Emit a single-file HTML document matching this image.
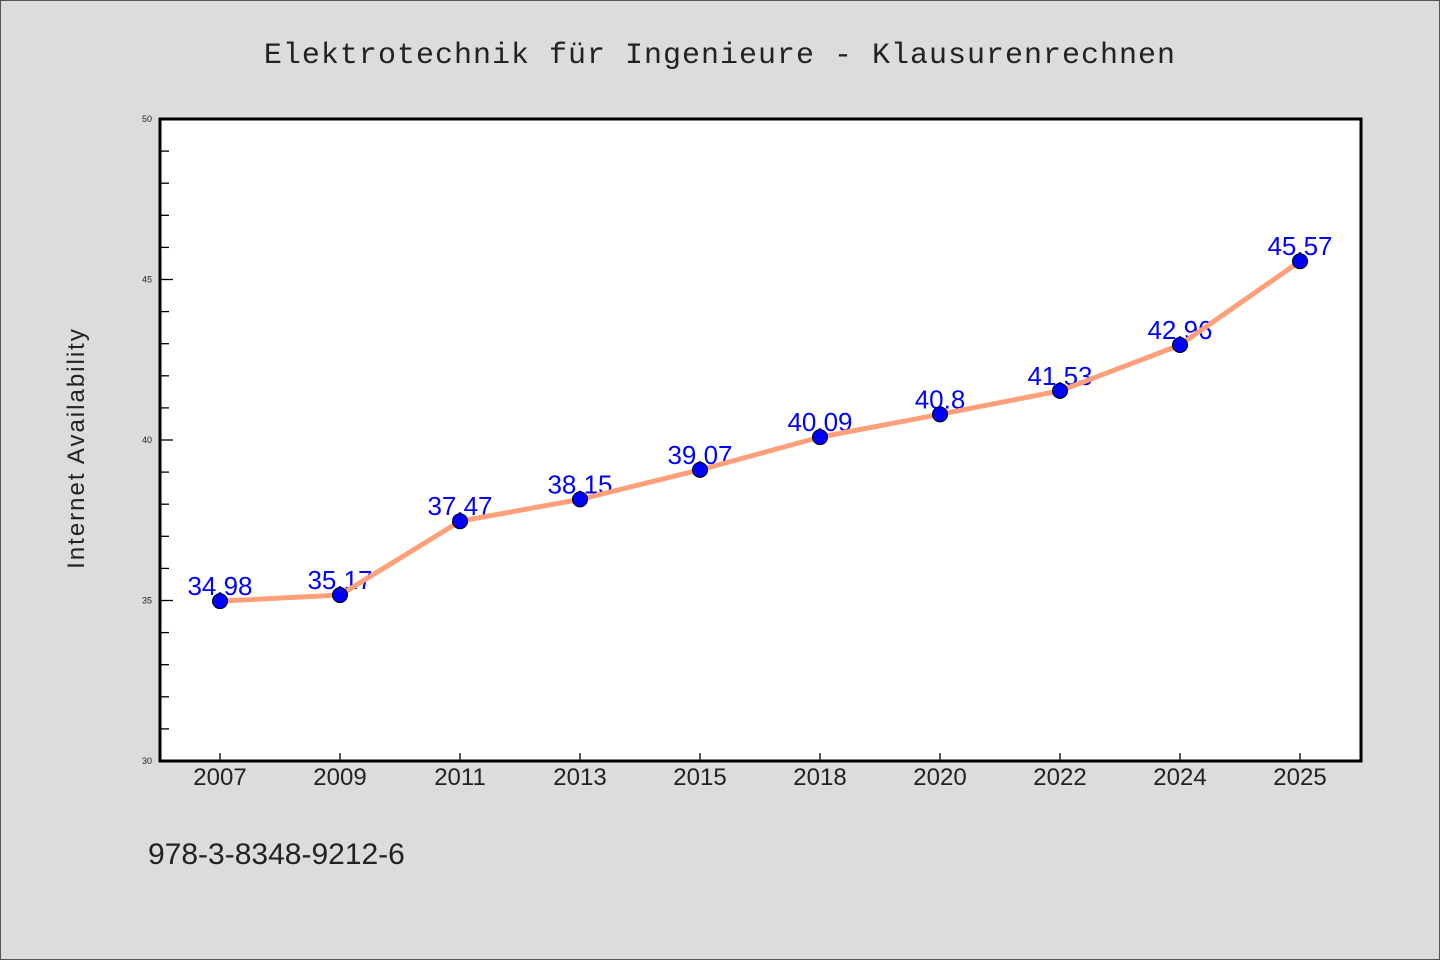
<!DOCTYPE html>
<html><head><meta charset="utf-8"><style>
html,body{margin:0;padding:0;background:#dcdcdc;}
svg{display:block;}
</style></head><body>
<svg width="1440" height="960" xmlns="http://www.w3.org/2000/svg">
<rect x="0.5" y="0.5" width="1439" height="959" fill="#dcdcdc" stroke="#555"/>
<text x="720" y="63" text-anchor="middle" font-family="'WenQuanYi Zen Hei','Liberation Mono',monospace" font-size="30" fill="#222" letter-spacing="1">Elektrotechnik für Ingenieure - Klausurenrechnen</text>
<rect x="160" y="119" width="1201" height="642" fill="#fff"/>
<g id="axes"></g>
<g id="labels"></g>
<g id="series"></g>
<rect x="160" y="119" width="1201" height="642" fill="none" stroke="#000" stroke-width="3"/>
<text transform="translate(84,448) rotate(-90)" text-anchor="middle" font-family="'WenQuanYi Zen Hei','Liberation Sans',sans-serif" font-size="24" fill="#222" letter-spacing="2">Internet Availability</text>
<text x="148" y="864" font-family="'WenQuanYi Zen Hei','Liberation Sans',sans-serif" font-size="30" fill="#222">978-3-8348-9212-6</text>
</svg>
<script>
const categories=["2007","2009","2011","2013","2015","2018","2020","2022","2024","2025"];
const values=[34.98,35.17,37.47,38.15,39.07,40.09,40.8,41.53,42.96,45.57];
const valueLabels=["34.98","35.17","37.47","38.15","39.07","40.09","40.8","41.53","42.96","45.57"];
const yTicks=[30,35,40,45,50];
const yMin=30,yMax=50;
const NS="http://www.w3.org/2000/svg";
const L=160,R=1361,T=119,B=761;
function xs(i){return 220+i*(1300-220)/(categories.length-1);}
function ys(v){return B-(v-yMin)/(yMax-yMin)*(B-T);}
function mk(t,a,p){const e=document.createElementNS(NS,t);for(const k in a)e.setAttribute(k,a[k]);p.appendChild(e);return e;}
const ax=document.getElementById('axes'),lb=document.getElementById('labels'),sr=document.getElementById('series');
for(let v=yMin;v<=yMax;v++){
  const major=yTicks.includes(v);
  const ln=mk('line',{x1:L,x2:L+(major?13:9),y1:ys(v),y2:ys(v),stroke:'#000','stroke-width':1.3},ax);
  
  
}
yTicks.forEach(v=>{
  const t=mk('text',{x:152,y:ys(v)+3,'text-anchor':'end','font-family':'Liberation Sans,sans-serif','font-size':9,fill:'#222'},ax);
  t.textContent=v;
  
  
});
categories.forEach((c,i)=>{
  const ln=mk('line',{x1:xs(i),x2:xs(i),y1:B-8,y2:B,stroke:'#000','stroke-width':1.3},ax);
  
  
  const t=mk('text',{x:xs(i),y:785,'text-anchor':'middle','font-family':"'WenQuanYi Zen Hei',Liberation Sans,sans-serif",'font-size':24,fill:'#222'},ax);
  t.textContent=c;
  
  
});
values.forEach((v,i)=>{
  const t=mk('text',{x:xs(i),y:ys(v)-6,'text-anchor':'middle','font-family':'Liberation Sans,sans-serif','font-size':26,fill:'#0000ff'},lb);
  t.textContent=valueLabels[i];
  
  
});
const pl=mk('polyline',{points:values.map((v,i)=>xs(i)+','+ys(v)).join(' '),fill:'none',stroke:'#ffa07a','stroke-width':5,'stroke-linejoin':'round'},sr);


values.forEach((v,i)=>{
  const c=mk('circle',{cx:xs(i),cy:ys(v),r:7.5,fill:'#0000ff',stroke:'#000','stroke-width':1},sr);
  
  
});
</script>
</body></html>
